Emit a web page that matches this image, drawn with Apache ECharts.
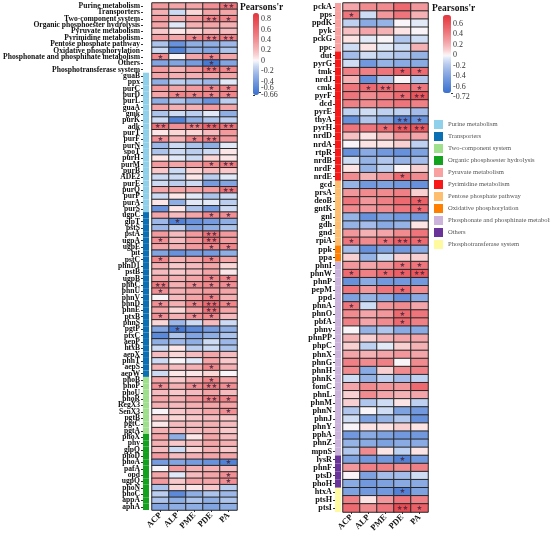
<!DOCTYPE html>
<html>
<head>
<meta charset="utf-8">
<script src="https://cdn.jsdelivr.net/npm/echarts@6/dist/echarts.min.js"></script>
<style>
  html, body { margin: 0; padding: 0; background: #fff; }
  #chart { width: 550px; height: 537px; }
</style>
</head>
<body>
<div id="chart"></div>
<script>
const cols = ['ACP', 'ALP', 'PME', 'PDE', 'PA']

const groupNames = [
  'Purine metabolism', 'Transporters', 'Two-component system', 'Organic phosphoester hydrolysis',
  'Pyruvate metabolism', 'Pyrimidine metabolism', 'Pentose phosphate pathway', 'Oxidative phosphorylation',
  'Phosphonate and phosphinate metabolism', 'Others', 'Phosphotransferase system'
]
// rows per group, in order (left panel: 11 pathway rows first, no group)
const leftPathwayRows = 11
const leftGroupSizes = [22, 26, 9, 12]
const rightGroupSizes = [6, 16, 8, 2, 24, 4, 3]

const leftRows = [
  'Purine metabolism', 'Transporters', 'Two-component system', 'Organic phosphoester hydrolysis',
  'Pyruvate metabolism', 'Pyrimidine metabolism', 'Pentose phosphate pathway', 'Oxidative phosphorylation',
  'Phosphonate and phosphinate metabolism', 'Others', 'Phosphotransferase system',
  'guaB', 'ppx', 'purC', 'purD', 'purL', 'guaA', 'gmk', 'purK', 'adk', 'purT', 'purF', 'purN', 'spoT',
  'purH', 'purM', 'purB', 'ADE2', 'purE', 'purQ', 'purP', 'purA', 'purS',
  'ugpC', 'glpT', 'pstS', 'pstA', 'ugpA', 'ugpE', 'pit', 'pstC', 'phnD1', 'pstB', 'ugpB', 'phnC', 'phnU',
  'phnV', 'phnD', 'phnE', 'ptxB', 'phnS', 'pgtP', 'ptxC', 'aepP', 'htxB', 'aepX', 'phnT', 'aepS', 'aepW',
  'phoB', 'phoP', 'phoU', 'phoR', 'RegX3', 'SenX3', 'pgtB', 'pgtC', 'pgtA',
  'phoX', 'phy', 'glpQ', 'phoD', 'phoA', 'pafA', 'opd', 'ugpQ', 'phoN', 'phoC', 'appA', 'aphA'
]

const rightRows = [
  'pckA', 'pps', 'ppdK', 'pyk', 'pckG', 'ppc',
  'dut', 'pyrG', 'tmk', 'nrdJ', 'cmk', 'pyrF', 'dcd', 'pyrE', 'thyA', 'pyrH', 'nrdD', 'nrdA', 'rtpR',
  'nrdB', 'nrdF', 'nrdE',
  'gcd', 'prsA', 'deoB', 'gntK', 'gnl', 'gdh', 'gnd', 'rpiA',
  'ppk', 'ppa',
  'phnI', 'phnW', 'phnP', 'pepM', 'ppd', 'phnA', 'phnO', 'pbfA', 'phny', 'phnPP', 'phpC', 'phnX', 'phnG',
  'phnH', 'phnK', 'fomC', 'phnL', 'phnM', 'phnN', 'phnJ', 'phnY', 'pphA', 'phnZ', 'mpnS',
  'lysR', 'phnF', 'ptsD', 'phoH',
  'htxA', 'ptsH', 'ptsI'
]

// Pearson's r, one array per column
const leftACP = [0.35, 0.25, 0.35, 0.3, 0.15, 0.35, -0.2, -0.1, 0.45, -0.35,
  0.35, 0.3, -0.3, 0.35, 0.3, -0.3, 0.3, -0.2, -0.1, 0.55,
  0.05, 0.4, -0.25, -0.2, 0.05, 0.35, 0.15, -0.1, -0.1, 0.3,
  -0.1, 0.05, -0.45, 0.3, -0.25, -0.25, 0.35, 0.4, 0.3, -0.35,
  0.45, 0.25, 0.2, 0.3, 0.5, 0.4, 0.0, 0.4, 0.3, 0.4,
  0.1, -0.35, -0.5, -0.3, -0.1, 0.2, -0.1, 0.25, -0.1, 0.3,
  0.4, 0.2, 0.3, 0.25, 0.0, 0.15, 0.05, 0.25, 0.3, 0.25,
  0.2, 0.35, -0.4, 0.0, 0.3, 0.35, -0.2, -0.15, -0.2, -0.35]
const leftALP = [0.3, -0.1, 0.25, -0.05, 0.05, 0.3, -0.45, -0.55, 0.0, -0.35,
  0.25, 0.25, -0.15, 0.3, 0.45, -0.2, 0.25, -0.1, -0.55, 0.4,
  0.1, 0.25, -0.1, -0.1, -0.05, 0.3, -0.1, -0.1, -0.15, 0.3,
  0.05, -0.3, 0.05, 0.2, -0.55, -0.15, 0.2, 0.2, 0.25, -0.45,
  0.25, 0.15, 0.15, 0.25, 0.25, 0.25, 0.2, 0.25, 0.1, 0.25,
  -0.25, -0.6, -0.2, -0.25, 0.05, 0.1, 0.0, 0.2, 0.05, 0.15,
  0.25, 0.15, 0.25, 0.2, 0.15, 0.1, 0.2, 0.2, -0.3, 0.15,
  -0.1, 0.2, -0.35, 0.35, -0.05, 0.15, 0.1, -0.5, -0.3, -0.3]
const leftPME = [0.3, 0.1, 0.35, 0.25, 0.1, 0.45, -0.3, -0.3, 0.3, -0.4,
  0.35, 0.25, -0.2, 0.35, 0.45, -0.3, 0.25, -0.15, -0.3, 0.5,
  0.1, 0.45, -0.2, -0.15, -0.1, 0.35, 0.1, 0.05, -0.1, 0.3,
  -0.05, -0.05, -0.2, 0.3, -0.45, -0.35, 0.35, 0.35, 0.35, -0.4,
  0.3, 0.2, 0.2, 0.3, 0.4, 0.3, 0.3, 0.45, 0.3, 0.4,
  -0.1, -0.5, -0.35, -0.3, -0.15, 0.2, -0.05, 0.25, 0.05, 0.25,
  0.4, 0.2, 0.35, 0.25, 0.2, 0.15, 0.2, 0.2, 0.05, 0.2,
  0.1, 0.25, -0.4, 0.25, 0.2, 0.3, 0.05, -0.3, -0.2, -0.3]
const leftPDE = [0.4, 0.3, 0.5, 0.3, 0.2, 0.5, -0.3, -0.35, 0.45, -0.6,
  0.55, 0.3, -0.25, 0.45, 0.45, -0.45, 0.35, -0.05, -0.2, 0.65,
  0.2, 0.5, -0.3, -0.1, 0.1, 0.45, 0.2, -0.15, -0.4, 0.35,
  -0.2, -0.05, -0.4, 0.45, -0.4, -0.3, 0.55, 0.55, 0.45, -0.4,
  0.45, 0.3, 0.3, 0.45, 0.45, 0.35, 0.45, 0.6, 0.55, 0.45,
  0.2, -0.4, -0.3, -0.1, -0.1, 0.3, 0.3, 0.45, 0.1, 0.45,
  0.5, 0.3, 0.5, 0.3, 0.3, 0.2, 0.25, 0.25, 0.3, 0.3,
  0.25, 0.3, -0.45, 0.25, 0.3, 0.3, 0.15, -0.2, -0.3, -0.35]
const leftPA = [0.55, 0.3, 0.45, 0.25, 0.2, 0.5, -0.25, -0.2, 0.3, -0.35,
  0.45, 0.3, -0.05, 0.45, 0.45, -0.15, 0.3, -0.3, -0.15, 0.55,
  0.35, 0.35, -0.05, 0.05, 0.05, 0.5, 0.15, -0.05, -0.35, 0.55,
  -0.1, -0.15, -0.1, 0.4, -0.3, -0.2, 0.35, 0.35, 0.45, -0.3,
  0.3, 0.1, 0.05, 0.45, 0.4, 0.3, 0.25, 0.45, 0.3, 0.2,
  -0.1, -0.3, -0.2, -0.25, -0.2, 0.2, 0.15, 0.25, 0.0, 0.3,
  0.4, 0.2, 0.45, 0.3, 0.4, 0.15, 0.2, 0.15, 0.2, 0.25,
  0.15, 0.3, -0.55, 0.2, 0.4, 0.4, -0.15, -0.25, -0.2, -0.3]

const rightACP = [0.25, 0.45, -0.15, 0.15, 0.05, -0.1, -0.25, -0.1, 0.4, 0.2,
  0.45, 0.45, 0.4, -0.15, -0.5, 0.45, 0.15, 0.0, -0.5, -0.1,
  0.05, 0.35, -0.3, 0.3, 0.45, 0.35, -0.3, -0.3, 0.3, 0.45,
  -0.25, 0.1, 0.3, 0.5, -0.5, 0.45, -0.4, 0.45, 0.35, 0.4,
  0.0, 0.2, 0.1, 0.25, 0.4, 0.35, -0.1, 0.25, 0.1, 0.1,
  -0.2, -0.1, 0.0, -0.45, -0.3, -0.2, -0.4, 0.3, 0.0, -0.35,
  -0.4, 0.4, 0.5]
const rightALP = [0.35, -0.1, -0.35, 0.25, -0.05, 0.05, -0.1, -0.45, 0.4, -0.5,
  0.5, 0.35, 0.35, -0.1, -0.2, 0.45, 0.05, 0.05, -0.35, -0.3,
  -0.3, 0.2, -0.45, 0.35, 0.3, 0.3, -0.5, -0.25, 0.2, 0.35,
  -0.5, -0.3, 0.25, 0.4, -0.35, 0.3, -0.3, -0.1, 0.25, 0.25,
  -0.3, 0.1, -0.15, 0.2, 0.35, -0.35, -0.3, 0.35, 0.35, -0.2,
  0.0, -0.4, 0.05, -0.35, -0.35, 0.35, -0.45, 0.4, -0.4, -0.45,
  -0.45, 0.05, 0.35]
const rightPME = [0.35, 0.3, -0.3, 0.2, 0.0, -0.05, -0.15, -0.3, 0.45, -0.2,
  0.5, 0.4, 0.4, -0.15, -0.35, 0.5, 0.15, 0.05, -0.45, -0.2,
  -0.15, 0.3, -0.4, 0.35, 0.4, 0.35, -0.4, -0.35, 0.25, 0.45,
  -0.4, -0.1, 0.3, 0.5, -0.45, 0.45, -0.35, 0.3, 0.3, 0.35,
  -0.2, 0.2, -0.05, 0.25, 0.4, 0.1, -0.15, 0.3, 0.25, -0.1,
  -0.1, -0.3, 0.05, -0.4, -0.4, 0.05, -0.45, 0.4, -0.25, -0.4,
  -0.45, 0.3, 0.45]
const rightPDE = [0.5, 0.45, 0.0, 0.05, -0.2, -0.1, -0.2, -0.35, 0.55, 0.0,
  0.45, 0.5, 0.45, -0.15, -0.6, 0.6, 0.3, 0.1, -0.5, -0.3,
  0.0, 0.5, -0.45, 0.4, 0.5, 0.45, -0.45, -0.3, 0.35, 0.55,
  -0.45, 0.1, 0.45, 0.55, -0.45, 0.5, -0.5, 0.35, 0.5, 0.5,
  -0.35, 0.25, 0.1, 0.3, 0.0, 0.35, -0.25, 0.3, 0.2, 0.05,
  -0.4, -0.2, 0.1, -0.45, -0.35, -0.15, -0.6, 0.35, -0.25, -0.35,
  -0.6, 0.45, 0.65]
const rightPA = [0.3, 0.2, -0.05, 0.0, -0.1, 0.2, -0.3, -0.35, 0.5, -0.2,
  0.45, 0.6, 0.4, -0.25, -0.5, 0.6, 0.25, -0.15, -0.4, -0.25,
  0.1, 0.35, -0.5, 0.1, 0.55, 0.5, -0.45, 0.05, 0.45, 0.5,
  -0.35, 0.1, 0.45, 0.6, -0.45, 0.35, -0.35, 0.25, 0.45, 0.4,
  -0.35, 0.25, 0.2, 0.25, 0.35, 0.4, -0.15, 0.5, 0.25, -0.15,
  -0.45, -0.5, 0.05, -0.45, -0.35, 0.05, -0.45, 0.4, -0.1, -0.35,
  -0.4, 0.4, 0.55]

// significance marks: [row, column, number of stars]
const leftStars = [[0, 4, 2], [2, 3, 2], [2, 4, 1], [5, 2, 1], [5, 3, 2], [5, 4, 2], [8, 0, 1], [8, 3, 1],
  [9, 3, 1], [10, 3, 2], [10, 4, 1], [13, 3, 1], [13, 4, 1], [14, 1, 1], [14, 2, 1], [14, 3, 1], [14, 4, 1],
  [19, 0, 2], [19, 2, 2], [19, 3, 2], [19, 4, 2], [21, 0, 1], [21, 2, 1], [21, 3, 2], [25, 3, 1], [25, 4, 2],
  [29, 4, 2], [33, 3, 1], [33, 4, 1], [34, 1, 1], [36, 3, 2], [37, 0, 1], [37, 3, 2], [38, 3, 1], [38, 4, 1],
  [40, 0, 1], [40, 3, 1], [43, 3, 1], [43, 4, 1], [44, 0, 2], [44, 2, 1], [44, 3, 1], [44, 4, 1], [45, 0, 1],
  [46, 3, 1], [47, 0, 1], [47, 2, 1], [47, 3, 2], [47, 4, 1], [48, 3, 2], [49, 0, 1], [49, 2, 1], [49, 3, 1],
  [51, 1, 1], [57, 3, 1], [59, 3, 1], [60, 0, 1], [60, 2, 1], [60, 3, 2], [60, 4, 1], [62, 3, 2], [62, 4, 1],
  [64, 4, 1], [72, 4, 1], [74, 4, 1], [75, 4, 1]]
const rightStars = [[1, 0, 1], [8, 3, 1], [8, 4, 1], [10, 1, 1], [10, 2, 2], [10, 4, 1], [11, 3, 1], [11, 4, 2],
  [14, 3, 2], [14, 4, 1], [15, 2, 1], [15, 3, 2], [15, 4, 2], [21, 3, 1], [24, 4, 1], [25, 4, 1], [29, 0, 1],
  [29, 2, 1], [29, 3, 2], [29, 4, 1], [32, 3, 1], [32, 4, 1], [33, 0, 1], [33, 2, 1], [33, 3, 1], [33, 4, 2],
  [35, 3, 1], [37, 0, 1], [38, 3, 1], [39, 3, 1], [56, 3, 1], [60, 3, 1], [62, 3, 2], [62, 4, 1]]

// colour-bar ticks
const leftMin = -0.66
const leftMax = 0.92
const leftTicks = [0.8, 0.6, 0.4, 0.2, 0, -0.2, -0.4, leftMin]
const leftCrowdedTick = [-0.6]
const rightMin = -0.72
const rightMax = 0.77
const rightTicks = [0.6, 0.4, 0.2, 0, -0.2, -0.4, -0.6]
const rightEndTick = [rightMin]

// ---- styling ----
const groupColors = ['#8fd0ea', '#0b6fb4', '#9fe08c', '#12a21e', '#f9a0a0', '#f81818',
  '#fdbf6f', '#ff8000', '#cbb3db', '#6a3399', '#fffa9e']
const serif = 'Liberation Serif'
const blue = [58, 112, 208]
const red = [229, 52, 60]

// white at 0, blue at min, red at max; slight gamma so mid values look as strong as the original
function divergingStops(min, max, n) {
  const out = []
  for (let i = 0; i < n; i++) {
    const v = min + (max - min) * i / (n - 1)
    const end = v < 0 ? blue : red
    const t = Math.pow(v < 0 ? v / min : v / max, 0.72)
    const c = end.map(e => Math.round(255 + (e - 255) * t))
    out.push(`rgb(${c[0]},${c[1]},${c[2]})`)
  }
  return out
}

function heatData(columns) {
  const out = []
  columns.forEach((col, c) => col.forEach((v, r) => out.push([c, r, v])))
  return out
}

function starLookup(list) {
  const m = {}
  list.forEach(([r, c, n]) => { m[r + '_' + c] = '★'.repeat(n) })
  return m
}

function groupSeries(sizes, offset, firstGroup, nRows, axisIdx) {
  let start = offset
  return sizes.map((size, g) => {
    const data = []
    for (let r = 0; r < nRows; r++) data.push(r >= start && r < start + size ? 1 : '-')
    start += size
    return {
      name: groupNames[firstGroup + g],
      type: 'bar',
      xAxisIndex: axisIdx,
      yAxisIndex: axisIdx,
      data,
      barGap: '-100%',
      barCategoryGap: '0%',
      itemStyle: { color: groupColors[firstGroup + g] },
      silent: true
    }
  })
}

const leftStarMap = starLookup(leftStars)
const rightStarMap = starLookup(rightStars)

const rowLabelAxis = (rows, fontSize, gridIndex) => ({
  type: 'category',
  gridIndex,
  data: rows,
  inverse: true,
  axisLine: { show: false },
  axisTick: { show: true, length: 2, alignWithLabel: true, lineStyle: { color: '#333' } },
  axisLabel: { interval: 0, fontFamily: serif, fontWeight: 'bold', fontSize, color: '#111', margin: 3 }
})
const hiddenCat = (rows, gridIndex) => ({ type: 'category', gridIndex, data: rows, inverse: true, show: false })
const colAxis = gridIndex => ({
  type: 'category',
  gridIndex,
  data: cols,
  axisLine: { show: false },
  axisTick: { show: true, length: 2, alignWithLabel: true, lineStyle: { color: '#333' } },
  axisLabel: { rotate: 45, fontFamily: serif, fontWeight: 'bold', fontSize: 8.5, color: '#111', margin: 4 }
})
const hiddenVal = gridIndex => ({ type: 'value', gridIndex, min: 0, max: 1, show: false })
const legendAxis = (gridIndex, min, max, ticks, verticalAlign) => ({
  type: 'value',
  gridIndex,
  min,
  max,
  position: 'right',
  splitLine: { show: false },
  axisLine: { show: false },
  axisTick: { show: true, length: 2, customValues: ticks, lineStyle: { color: '#333' } },
  axisLabel: {
    customValues: ticks,
    showMinLabel: true,
    showMaxLabel: true,
    fontFamily: serif,
    fontSize: 8,
    color: '#333',
    margin: 2,
    verticalAlign
  }
})

const heatSeries = (columns, axisIdx, starMap) => ({
  type: 'heatmap',
  xAxisIndex: axisIdx,
  yAxisIndex: axisIdx,
  data: heatData(columns),
  itemStyle: { borderColor: '#262626', borderWidth: 1 },
  label: {
    show: true,
    fontSize: 6.5,
    fontFamily: 'DejaVu Sans',
    color: 'rgba(70,40,60,0.85)',
    formatter: p => starMap[p.value[1] + '_' + p.value[0]] || ''
  },
  silent: true
})

const leftBars = groupSeries(leftGroupSizes, leftPathwayRows, 0, leftRows.length, 0)
const rightBars = groupSeries(rightGroupSizes, 0, 4, rightRows.length, 2)
const series = [
  heatSeries([leftACP, leftALP, leftPME, leftPDE, leftPA], 1, leftStarMap),
  heatSeries([rightACP, rightALP, rightPME, rightPDE, rightPA], 3, rightStarMap),
  ...leftBars,
  ...rightBars
]

const chart = echarts.init(document.getElementById('chart'), null, { renderer: 'canvas' })

chart.setOption({
  animation: false,
  title: [
    { text: "Pearsons'r", left: 240, top: 3, padding: 0,
      textStyle: { fontFamily: serif, fontWeight: 'bold', fontSize: 9.5, color: '#111' } },
    { text: "Pearsons'r", left: 432, top: 4, padding: 0,
      textStyle: { fontFamily: serif, fontWeight: 'bold', fontSize: 9.5, color: '#111' } }
  ],
  grid: [
    { left: 143, top: 3, width: 6, height: 507 },
    { left: 152, top: 3, width: 85, height: 507 },
    { left: 335, top: 3, width: 6, height: 509 },
    { left: 343, top: 3, width: 85, height: 509 },
    { left: 253, top: 13, width: 6, height: 82 },
    { left: 443, top: 15, width: 8, height: 78 }
  ],
  xAxis: [hiddenVal(0), colAxis(1), hiddenVal(2), colAxis(3), hiddenVal(4), hiddenVal(5)],
  yAxis: [
    rowLabelAxis(leftRows, 7.6, 0),
    hiddenCat(leftRows, 1),
    rowLabelAxis(rightRows, 8.2, 2),
    hiddenCat(rightRows, 3),
    legendAxis(4, leftMin, leftMax, leftTicks, 'middle'),
    legendAxis(4, leftMin, leftMax, leftCrowdedTick, 'bottom'),
    legendAxis(5, rightMin, rightMax, rightTicks, 'middle'),
    legendAxis(5, rightMin, rightMax, rightEndTick, 'top')
  ],
  visualMap: [
    { type: 'continuous', seriesIndex: 0, dimension: 2, min: leftMin, max: leftMax, calculable: false,
      orient: 'vertical', left: 253, top: 13, itemWidth: 6, itemHeight: 82, padding: 0,
      inRange: { color: divergingStops(leftMin, leftMax, 41) } },
    { type: 'continuous', seriesIndex: 1, dimension: 2, min: rightMin, max: rightMax, calculable: false,
      orient: 'vertical', left: 443, top: 15, itemWidth: 8, itemHeight: 78, padding: 0,
      inRange: { color: divergingStops(rightMin, rightMax, 41) } }
  ],
  legend: {
    data: groupNames,
    orient: 'vertical',
    left: 434,
    top: 120,
    padding: 0,
    icon: 'rect',
    itemWidth: 9,
    itemHeight: 9,
    itemGap: 3,
    selectedMode: false,
    textStyle: { fontFamily: serif, fontSize: 6.6, color: '#555' }
  },
  series
})
</script>
</body>
</html>
